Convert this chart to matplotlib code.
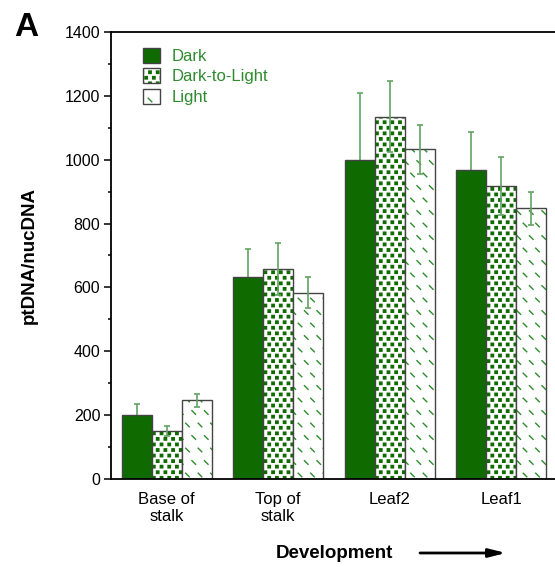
import numpy as np
import matplotlib
matplotlib.use("Agg")
import matplotlib.pyplot as plt
import matplotlib.hatch as mhatch
from matplotlib.path import Path

# Data
stages = ["Base of\nstalk", "Top of\nstalk", "Leaf2", "Leaf1"]
series = ["Dark", "Dark-to-Light", "Light"]
dark = [202, 634, 999, 967]
dark_err = [32, 86, 209, 121]
dark_to_light = [151, 658, 1135, 917]
dark_to_light_err = [15, 82, 110, 91]
light = [247, 584, 1033, 848]
light_err = [20, 50, 77, 52]


# --------------------------------------------------------------
# Custom hatches: staggered small squares and short dashes
# --------------------------------------------------------------
def lattice(rows, cols):
    pts = []
    for j in range(rows + 1):
        shift = 0.5 if j % 2 else 0.0
        for i in range(cols + 1):
            pts.append(((i + shift) / cols, j / rows))
    return np.array(pts)


class LatticeHatch(mhatch.HatchPatternBase):
    def __init__(self, hatch, density):
        self.pts = lattice(self.rows, self.cols) if self.char in hatch else np.empty((0, 2))
        self.num_vertices = len(self.pts) * len(self.shape)

    def set_vertices_and_codes(self, vertices, codes):
        vertices[:] = (self.pts[:, None, :] + self.shape[None, :, :]).reshape(-1, 2)
        codes[:] = np.tile(self.codes, len(self.pts))


class SquareHatch(LatticeHatch):
    char, rows, cols = "o", 18, 13
    shape = 0.012 * np.array([[-1, -1], [1, -1], [1, 1], [-1, 1], [-1, -1]])
    codes = [Path.MOVETO, Path.LINETO, Path.LINETO, Path.LINETO, Path.CLOSEPOLY]


class DashHatch(LatticeHatch):
    char, rows, cols = ".", 8, 8
    shape = 0.018 * np.array([[-1, 1], [1, -1]])
    codes = [Path.MOVETO, Path.LINETO]


mhatch._hatch_types = [SquareHatch, DashHatch]

# Plot settings
plt.rcParams["font.family"] = ["Liberation Sans", "DejaVu Sans"]
plt.rcParams["hatch.linewidth"] = 1.0

dark_green = "#0f6a00"
mid_green = "#2e8b2e"
err_green = "#62a462"
edge = "#444444"

fig = plt.figure(figsize=(5.55, 5.67), dpi=100)
ax = fig.add_axes([0.2, 0.1552, 0.8036, 0.7884])

x = np.arange(len(stages))
width = 0.27
values = [dark, dark_to_light, light]
errors = [dark_err, dark_to_light_err, light_err]
faces = [dark_green, "white", "white"]
hatches = [None, "o", "."]
hatch_cols = [dark_green, dark_green, mid_green]
# error bars of the solid series sit behind the fill, so only the top half shows
err_z = [0.5, 2, 2]

handles = []
for k in range(3):
    pos = x + (k - 1) * width
    fill = ax.bar(pos, values[k], width, color=faces[k], edgecolor=hatch_cols[k],
                  linewidth=0, hatch=hatches[k])
    outline = ax.bar(pos, values[k], width, fill=False, edgecolor=edge, linewidth=1.0,
                     yerr=errors[k],
                     error_kw=dict(ecolor=err_green, elinewidth=1.2, capsize=2.3,
                                   capthick=1.2, zorder=err_z[k]))
    handles.append((fill[0], outline[0]))

ax.set_xlim(-0.5, 3.5)
ax.set_ylim(0, 1400)
ax.set_yticks(np.arange(0, 1401, 200))
ax.set_yticks(np.arange(100, 1400, 200), minor=True)
ax.set_xticks(x)
ax.set_xticklabels(stages, fontsize=12)
ax.tick_params(axis="x", length=0, pad=9)
ax.tick_params(axis="y", which="major", length=4.7, width=1.1, labelsize=11.5, pad=3)
ax.tick_params(axis="y", which="minor", length=2.5, width=1.1)
for s in ["left", "bottom", "top", "right"]:
    ax.spines[s].set_linewidth(1.3)

ax.set_ylabel("ptDNA/nucDNA", fontsize=13.5, fontweight="bold")
ax.yaxis.set_label_coords(-0.163, 0.5)

leg = ax.legend(handles, series, loc="upper left", bbox_to_anchor=(0.072, 0.965),
                frameon=False, fontsize=12, labelcolor=mid_green, borderpad=0,
                borderaxespad=0, handlelength=1.0, handleheight=1.0,
                handletextpad=0.7, labelspacing=0.26)

fig.text(334 / 555, 1 - 553 / 567, "Development", ha="center", va="center",
         fontsize=13.5, fontweight="bold")
fig.text(14 / 555, 1 - 27 / 567, "A", ha="left", va="center", fontsize=24, fontweight="bold")
ax.annotate("", xy=(506 / 555, 1 - 553 / 567), xytext=(420 / 555, 1 - 553 / 567),
            xycoords="figure fraction",
            arrowprops=dict(arrowstyle="-|>,head_length=1.0,head_width=0.25",
                            color="black", lw=2, shrinkA=0, shrinkB=0))

fig.savefig("out.png", dpi=100)
